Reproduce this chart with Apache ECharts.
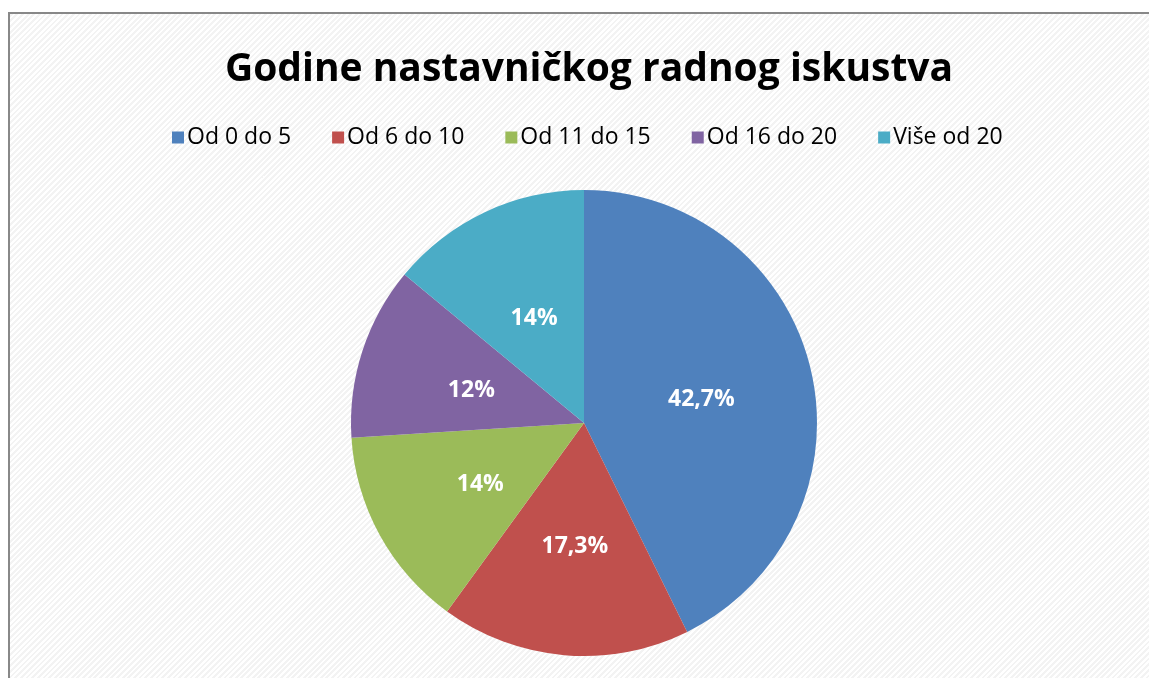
<!DOCTYPE html>
<html>
<head>
    <meta charset="utf-8">
    <title>Godine nastavničkog radnog iskustva</title>
    <script src="https://cdn.jsdelivr.net/npm/echarts@6.0.0/dist/echarts.min.js"></script>
    <style>
        html, body { margin: 0; padding: 0; background: #fff; }
        #frame {
            position: absolute;
            left: 8px;
            top: 12px;
            width: 1160px;
            height: 690px;
            border: 2px solid #888;
            background: repeating-linear-gradient(-45deg, #ffffff 0px, #ffffff 2px, #f3f3f3 2px, #f3f3f3 4px);
        }
        #chart-container {
            position: absolute;
            left: 0;
            top: 0;
            width: 1149px;
            height: 678px;
        }
    </style>
</head>
<body>
<div id="frame"></div>
<div id="chart-container"></div>

<script>
    // podaci
    var categories = ['Od 0 do 5', 'Od 6 do 10', 'Od 11 do 15', 'Od 16 do 20', 'Više od 20'];
    var values = [42.7, 17.3, 14, 12, 14];
    var colors = ['#4F81BD', '#C0504D', '#9BBB59', '#8064A2', '#4BACC6'];

    var myChart = echarts.init(document.getElementById('chart-container'));

    var data = categories.map(function (name, i) {
        return { name: name, value: values[i], itemStyle: { color: colors[i] } };
    });

    var option = {
        title: {
            text: 'Godine nastavničkog radnog iskustva',
            left: 584,
            top: 45,
            textAlign: 'center',
            textStyle: {
                fontFamily: 'Open Sans',
                fontSize: 39,
                fontWeight: 'bold',
                color: '#000'
            }
        },
        legend: {
            data: categories,
            left: 167,
            top: 121,
            icon: 'rect',
            itemWidth: 12,
            itemHeight: 12,
            itemGap: 41,
            textStyle: {
                fontFamily: 'Open Sans',
                fontSize: 23,
                color: '#000',
                padding: [0, 0, 0, -2]
            }
        },
        series: [
            {
                type: 'pie',
                center: [584, 423],
                radius: 233,
                startAngle: 90,
                clockwise: true,
                data: data,
                itemStyle: {
                    borderWidth: 0
                },
                label: {
                    show: true,
                    position: 'inside',
                    offset: [1, 4],
                    formatter: function (p) {
                        return String(p.value).replace('.', ',') + '%';
                    },
                    fontFamily: 'Open Sans',
                    fontSize: 23,
                    fontWeight: 'bold',
                    color: '#fff'
                },
                labelLine: { show: false },
                emphasis: { disabled: true }
            }
        ]
    };

    myChart.setOption(option);
</script>
</body>
</html>
